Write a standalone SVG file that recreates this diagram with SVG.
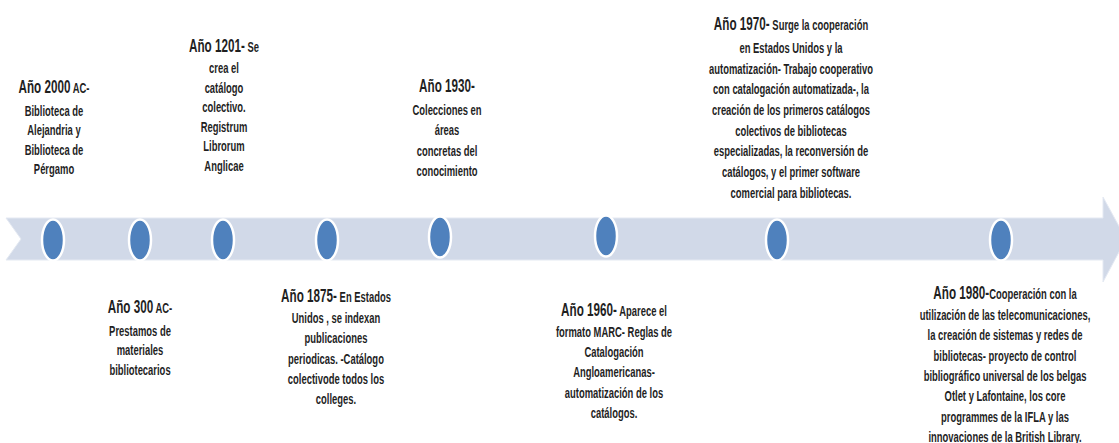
<svg xmlns="http://www.w3.org/2000/svg" width="1119" height="443" viewBox="0 0 1119 443">
<style>
text{font-family:"Liberation Sans",Arial,sans-serif;font-weight:bold;font-size:14.5px;fill:#1F1F1F;text-anchor:middle}
.big{font-size:18px}
.dot{fill:#4F81BD;stroke:#FFFFFF;stroke-width:2.5}
.band{fill:#D1D9E8;stroke:#E4E9F2;stroke-width:1}
</style>
<rect width="1119" height="443" fill="#FFFFFF"/>
<g id="connectors">
<polygon class="band" points="6,218 1103,218 1103,197 1126,239 1103,282 1103,260 6,260 21,239"/>
</g>
<g id="dots">
<ellipse id="d1" class="dot" cx="53" cy="240" rx="11" ry="20.5"/>
<ellipse id="d2" class="dot" cx="140" cy="240" rx="11" ry="20.5"/>
<ellipse id="d3" class="dot" cx="223" cy="240" rx="11" ry="20.5"/>
<ellipse id="d4" class="dot" cx="327" cy="240" rx="11" ry="20.5"/>
<ellipse id="d5" class="dot" cx="440" cy="237" rx="11" ry="20.5"/>
<ellipse id="d6" class="dot" cx="606" cy="236" rx="11" ry="20.5"/>
<ellipse id="d7" class="dot" cx="777" cy="240" rx="11" ry="20.5"/>
<ellipse id="d8" class="dot" cx="1001" cy="240" rx="11" ry="20.5"/>
</g>
<g id="n2000" transform="translate(54 0) scale(0.65 1)">
<text x="0" y="93"><tspan class="big">Año 2000</tspan> AC-</text>
<text x="0" y="116">Biblioteca de</text>
<text x="0" y="135.5">Alejandria y</text>
<text x="0" y="155">Biblioteca de</text>
<text x="0" y="174.5">Pérgamo</text>
</g>
<g id="n300" transform="translate(140 0) scale(0.65 1)">
<text x="0" y="313"><tspan class="big">Año 300</tspan> AC-</text>
<text x="0" y="336">Prestamos de</text>
<text x="0" y="355.5">materiales</text>
<text x="0" y="375">bibliotecarios</text>
</g>
<g id="n1201" transform="translate(224 0) scale(0.65 1)">
<text x="0" y="52"><tspan class="big">Año 1201-</tspan> Se</text>
<text x="0" y="73.5">crea el</text>
<text x="0" y="93">catálogo</text>
<text x="0" y="112.5">colectivo.</text>
<text x="0" y="132">Registrum</text>
<text x="0" y="151.5">Librorum</text>
<text x="0" y="171">Anglicae</text>
</g>
<g id="n1875" transform="translate(336 0) scale(0.65 1)">
<text x="0" y="302.5"><tspan class="big">Año 1875-</tspan> En Estados</text>
<text x="0" y="323">Unidos , se indexan</text>
<text x="0" y="343.5">publicaciones</text>
<text x="0" y="364">periodicas. -Catálogo</text>
<text x="0" y="384">colectivode todos los</text>
<text x="0" y="404.5">colleges.</text>
</g>
<g id="n1930" transform="translate(447 0) scale(0.65 1)">
<text x="0" y="92"><tspan class="big">Año 1930-</tspan></text>
<text x="0" y="115">Colecciones en</text>
<text x="0" y="135.5">áreas</text>
<text x="0" y="156">concretas del</text>
<text x="0" y="176">conocimiento</text>
</g>
<g id="n1960" transform="translate(614 0) scale(0.65 1)">
<text x="0" y="316"><tspan class="big">Año 1960-</tspan> Aparece el</text>
<text x="0" y="337">formato MARC- Reglas de</text>
<text x="0" y="357">Catalogación</text>
<text x="0" y="377.5">Angloamericanas-</text>
<text x="0" y="398">automatización de los</text>
<text x="0" y="418">catálogos.</text>
</g>
<g id="n1970" transform="translate(791 0) scale(0.65 1)">
<text x="0" y="30"><tspan class="big">Año 1970-</tspan> Surge la cooperación</text>
<text x="0" y="53">en Estados Unidos y la</text>
<text x="0" y="73.7">automatización- Trabajo cooperativo</text>
<text x="0" y="94.4">con catalogación automatizada-, la</text>
<text x="0" y="115.1">creación de los primeros catálogos</text>
<text x="0" y="135.8">colectivos de bibliotecas</text>
<text x="0" y="156.5">especializadas, la reconversión de</text>
<text x="0" y="177.2">catálogos, y el primer software</text>
<text x="0" y="198">comercial para bibliotecas.</text>
</g>
<g id="n1980" transform="translate(1005 0) scale(0.65 1)">
<text x="0" y="299"><tspan class="big">Año 1980-</tspan>Cooperación con la</text>
<text x="0" y="320">utilización de las telecomunicaciones,</text>
<text x="0" y="340.5">la creación de sistemas y redes de</text>
<text x="0" y="361">bibliotecas- proyecto de control</text>
<text x="0" y="381.5">bibliográfico universal de los belgas</text>
<text x="0" y="401.5">Otlet y Lafontaine, los core</text>
<text x="0" y="422">programmes de la IFLA y las</text>
<text x="0" y="442">innovaciones de la British Library.</text>
</g>
</svg>
